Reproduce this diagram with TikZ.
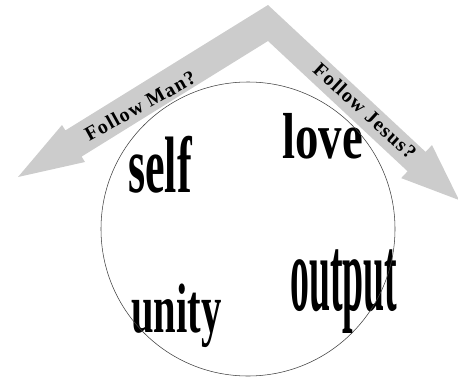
\documentclass[tikz,border=0pt]{standalone}
\usepackage{fontspec}
\setmainfont{Liberation Serif}
\usepackage{graphicx}
\definecolor{arrowgray}{RGB}{204,204,204}
\tikzset{
  chevron/.style={fill=arrowgray, draw=none},
  armlabel/.style={font=\bfseries\fontsize{20}{20}\selectfont\addfontfeature{LetterSpace=6}, inner sep=0pt},
  bigword/.style={anchor=base west, inner sep=0pt},
  ring/.style={draw=black!75, line width=0.55pt}
}
\newcommand{\tallword}[3]{\scalebox{#2}[1]{\fontsize{#1}{#1}\selectfont\bfseries #3}}
\begin{document}
\begin{tikzpicture}[x=1pt,y=-1pt]
\useasboundingbox (0,0) rectangle (458,378);
\begin{scope}
\clip (0,0) rectangle (458,378);
% double chevron arrow
\fill[chevron]
  (268,5) -- (65.4,130.4) -- (62,125) -- (18,177) -- (85,162) -- (81.6,156.6)
  -- (268,41) -- (407.6,171.3) -- (401.2,178.1) -- (459,200) -- (432,145.1)
  -- (425.6,151.9) -- cycle;
\end{scope}
\node[armlabel, rotate=29] (man) at (140,106) {Follow Man?};
\node[armlabel, rotate=-42.5] (jesus) at (365,111) {Follow Jesus?};
% words
\node[bigword] (self) at (128,192) {\tallword{80}{0.55}{self}};
\node[bigword] (love) at (282,158) {\tallword{65}{0.72}{love}};
\node[bigword] (unity) at (131,332) {\tallword{70}{0.58}{unity}};
\node[bigword] (output) at (290,310) {\tallword{108}{0.35}{output}};
% circle
\draw[ring] (248,229) circle[radius=147pt];
\end{tikzpicture}
\end{document}
